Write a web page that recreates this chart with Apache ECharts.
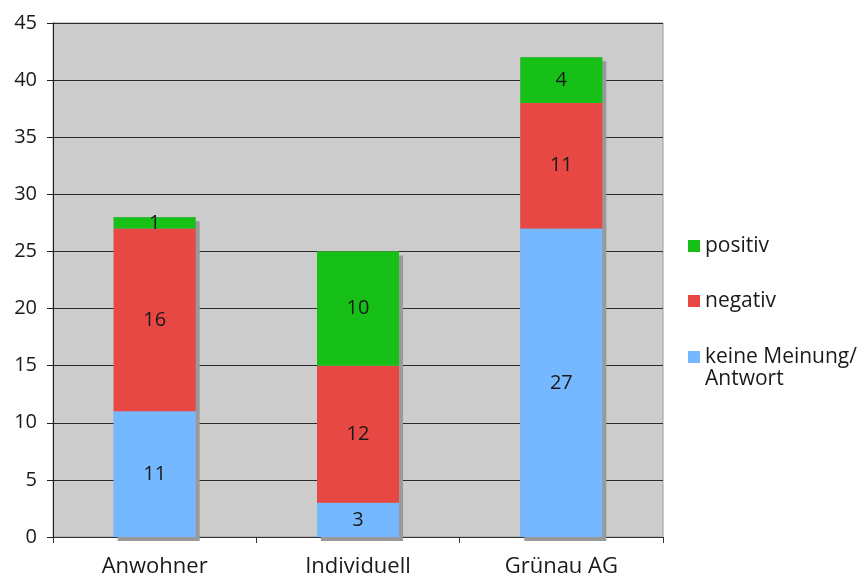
<!DOCTYPE html>
<html>
<head>
<meta charset="utf-8">
<script src="https://cdn.jsdelivr.net/npm/echarts@6/dist/echarts.min.js"></script>
<style>
html,body{margin:0;padding:0;background:#fff;}
#chart{width:861px;height:581px;}
</style>
</head>
<body>
<div id="chart"></div>
<script>
const categories = ['Anwohner', 'Individuell', 'Grünau AG'];
const keineMeinung = [11, 3, 27];
const negativ = [16, 12, 11];
const positiv = [1, 10, 4];
const yTicks = { min: 0, max: 45, step: 5 };

// bar totals, used only to draw the drop shadow behind each stack
const totals = categories.map((_, i) => keineMeinung[i] + negativ[i] + positiv[i]);

const FONT = '"Open Sans"';
const TEXT = '#1a1a1a';
const chart = echarts.init(document.getElementById('chart'));

const labelStyle = {
  show: true,
  position: 'inside',
  color: TEXT,
  fontSize: 20,
  fontFamily: FONT
};

// one legend block per entry so each can be placed on its own row;
// a leading blank line keeps the swatch level with the first text line
function legendBlock(name, top, padTop) {
  return {
    orient: 'vertical',
    left: 688,
    top: top,
    padding: 0,
    itemWidth: 12,
    itemHeight: 12,
    icon: 'rect',
    data: [name],
    formatter: padTop ? (n => ' \n' + n) : (n => n),
    textStyle: { fontSize: 21, color: TEXT, fontFamily: FONT, lineHeight: 22 }
  };
}

chart.setOption({
  animation: false,
  textStyle: { fontFamily: FONT },
  grid: {
    left: 53, right: 198, top: 23, bottom: 44,
    show: true,
    backgroundColor: '#cccccc',
    borderColor: '#9a9a9a',
    borderWidth: 1
  },
  legend: [
    legendBlock('positiv', 235, false),
    legendBlock('negativ', 290, false),
    legendBlock('keine Meinung/\nAntwort', 324, true)
  ],
  xAxis: {
    type: 'category',
    data: categories,
    axisLine: { lineStyle: { color: '#333', width: 1 } },
    axisTick: { show: true, length: 6, lineStyle: { color: '#333' } },
    axisLabel: { fontSize: 22, color: TEXT, margin: 19, fontFamily: FONT }
  },
  yAxis: {
    type: 'value',
    min: yTicks.min,
    max: yTicks.max,
    interval: yTicks.step,
    axisLine: { show: true, lineStyle: { color: '#222', width: 1 } },
    axisTick: { show: true, length: 6, lineStyle: { color: '#222' } },
    axisLabel: { fontSize: 20, color: TEXT, margin: 16, fontFamily: FONT },
    splitLine: { show: true, lineStyle: { color: '#2a2a2a', width: 1 } }
  },
  series: [
    {
      name: 'shadow',
      type: 'bar',
      data: totals,
      barWidth: 82,
      barGap: '-100%',
      silent: true,
      itemStyle: {
        color: '#999999',
        shadowColor: '#999999',
        shadowOffsetX: 4,
        shadowOffsetY: 4,
        shadowBlur: 0
      }
    },
    {
      name: 'keine Meinung/\nAntwort',
      type: 'bar',
      stack: 'total',
      data: keineMeinung,
      barWidth: 82,
      itemStyle: { color: '#75b8ff' },
      label: labelStyle
    },
    {
      name: 'negativ',
      type: 'bar',
      stack: 'total',
      data: negativ,
      barWidth: 82,
      itemStyle: { color: '#e84843' },
      label: labelStyle
    },
    {
      name: 'positiv',
      type: 'bar',
      stack: 'total',
      data: positiv,
      barWidth: 82,
      itemStyle: { color: '#16c016' },
      label: labelStyle
    }
  ]
});
</script>
</body>
</html>
